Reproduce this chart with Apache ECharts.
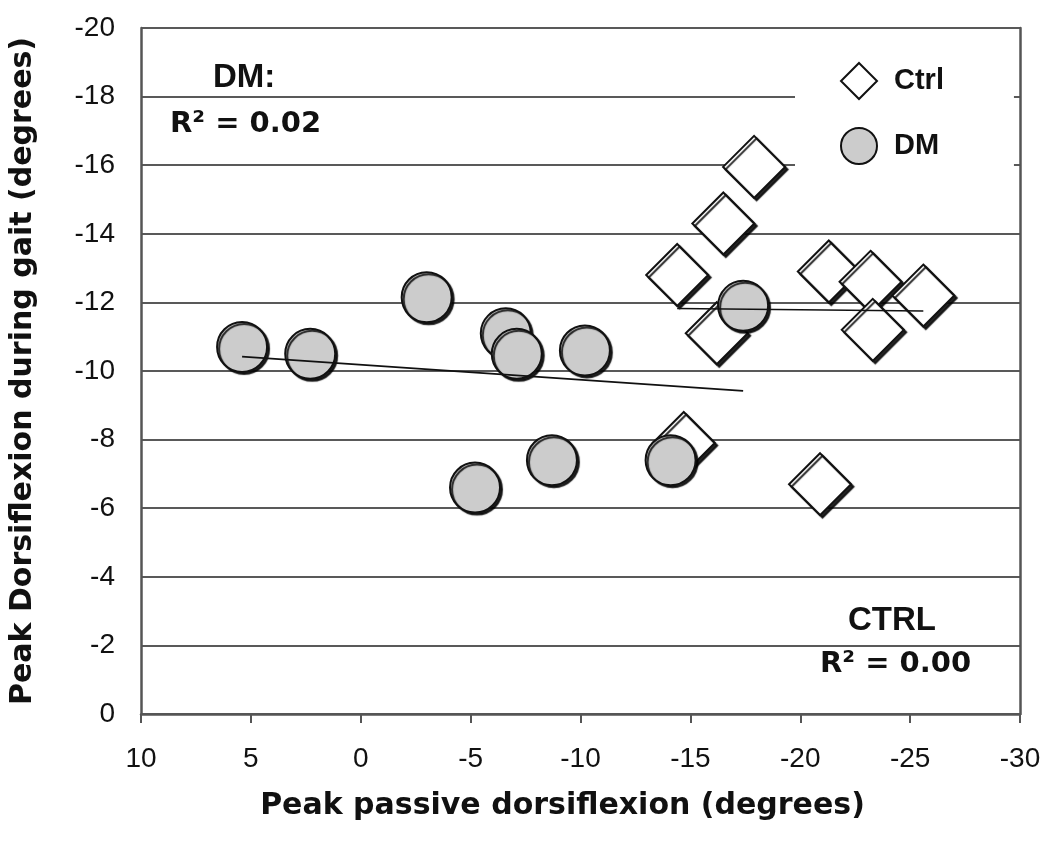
<!DOCTYPE html>
<html>
<head>
<meta charset="utf-8">
<script src="https://cdn.jsdelivr.net/npm/echarts@6/dist/echarts.min.js"></script>
<style>
html,body{margin:0;padding:0;background:#fff;}
#chart{width:1050px;height:843px;}
</style>
</head>
<body>
<div id="chart"></div>
<script>
// Control group (diamonds): [passive dorsiflexion, gait dorsiflexion]
const ctrlX = [-17.9, -16.5, -14.4, -16.2, -21.3, -23.2, -25.6, -23.3, -14.7, -20.9];
const ctrlY = [-15.95, -14.3, -12.8, -11.1, -12.9, -12.6, -12.2, -11.2, -7.9, -6.7];
// DM group (circles)
const dmX = [5.4, 2.3, -3.0, -6.6, -7.1, -10.2, -17.4, -8.7, -5.2, -14.1];
const dmY = [-10.7, -10.5, -12.15, -11.1, -10.5, -10.6, -11.9, -7.4, -6.6, -7.4];
// Trend lines (end points)
const dmTrendX = [5.4, -17.4];
const dmTrendY = [-10.42, -9.42];
const ctrlTrendX = [-14.4, -25.6];
const ctrlTrendY = [-11.82, -11.75];

const xTitle = 'Peak passive dorsiflexion (degrees)';
const yTitle = 'Peak Dorsiflexion during gait (degrees)';

const zip = (a, b) => a.map((v, i) => [v, b[i]]);

const chart = echarts.init(document.getElementById('chart'));
const tickFont = 'Liberation Sans, Arial, sans-serif';
const boldFont = 'DejaVu Sans, sans-serif';

chart.setOption({
  animation: false,
  backgroundColor: '#fff',
  grid: { left: 139, right: 30, top: 28, bottom: 129, containLabel: false },
  xAxis: {
    type: 'value', min: -30, max: 10, interval: 5, inverse: true,
    name: xTitle, nameLocation: 'middle', nameGap: 77,
    nameTextStyle: { fontFamily: boldFont, fontWeight: 'bold', fontSize: 30, color: '#111', padding: [0, 36, 0, 0] },
    axisLine: { show: true, onZero: false, lineStyle: { color: '#555', width: 2.5 } },
    axisTick: { show: true, inside: false, length: 9, lineStyle: { color: '#555', width: 2 } },
    axisLabel: { fontFamily: tickFont, fontSize: 28, color: '#111', margin: 31 },
    splitLine: { show: false }
  },
  yAxis: [{
    type: 'value', min: -20, max: 0, interval: 2, inverse: true,
    name: yTitle, nameLocation: 'middle', nameGap: 103,
    nameTextStyle: { fontFamily: boldFont, fontWeight: 'bold', fontSize: 30, color: '#111' },
    axisLine: { show: true, onZero: false, lineStyle: { color: '#555', width: 2.5 } },
    axisTick: { show: false },
    axisLabel: { fontFamily: tickFont, fontSize: 28, color: '#111', margin: 26 },
    splitLine: { show: true, lineStyle: { color: '#222', width: 1.5 } }
  }, {
    type: 'value', min: -20, max: 0, interval: 2, inverse: true, position: 'right',
    axisLine: { show: true, onZero: false, lineStyle: { color: '#555', width: 2.5 } },
    axisTick: { show: false }, axisLabel: { show: false }, splitLine: { show: false }
  }],
  legend: {
    data: ['Ctrl', 'DM'], orient: 'vertical', left: 795, top: 45,
    padding: [17, 70, 39, 45], itemGap: 27, itemWidth: 36, itemHeight: 36,
    backgroundColor: '#fff', z: 5,
    textStyle: { fontFamily: tickFont, fontWeight: 'bold', fontSize: 29, color: '#111', padding: [0, 0, 0, 12] }
  },
  graphic: [
    { type: 'text', left: 213, top: 61, z: 10, style: { text: 'DM:', font: 'bold 33px Liberation Sans, Arial, sans-serif', fill: '#111' } },
    { type: 'text', left: 170, top: 110, z: 10, style: { text: 'R² = 0.02', font: 'bold 29px DejaVu Sans, sans-serif', fill: '#111' } },
    { type: 'text', left: 848, top: 604, z: 10, style: { text: 'CTRL', font: 'bold 33px Liberation Sans, Arial, sans-serif', fill: '#111' } },
    { type: 'text', left: 820, top: 650, z: 10, style: { text: 'R² = 0.00', font: 'bold 29px DejaVu Sans, sans-serif', fill: '#111' } }
  ],
  series: [
    {
      name: 'Ctrl', type: 'scatter', symbol: 'diamond', symbolSize: 62, z: 2,
      data: zip(ctrlX, ctrlY),
      itemStyle: { color: '#fff', opacity: 1, borderColor: '#111', borderWidth: 2,
        shadowColor: 'rgba(0,0,0,0.85)', shadowBlur: 1, shadowOffsetX: 2.5, shadowOffsetY: 2.5 }
    },
    {
      name: 'DM', type: 'scatter', symbol: 'circle', symbolSize: 50, z: 3,
      data: zip(dmX, dmY),
      itemStyle: { color: '#cccccc', opacity: 1, borderColor: '#111', borderWidth: 2,
        shadowColor: 'rgba(0,0,0,0.85)', shadowBlur: 1, shadowOffsetX: 2, shadowOffsetY: 2 }
    },
    {
      name: 'DM trend', type: 'line', data: zip(dmTrendX, dmTrendY), symbol: 'none', z: 4,
      lineStyle: { color: '#111', width: 1.6 }, silent: true
    },
    {
      name: 'Ctrl trend', type: 'line', data: zip(ctrlTrendX, ctrlTrendY), symbol: 'none', z: 4,
      lineStyle: { color: '#111', width: 1.6 }, silent: true
    }
  ]
});
</script>
</body>
</html>
